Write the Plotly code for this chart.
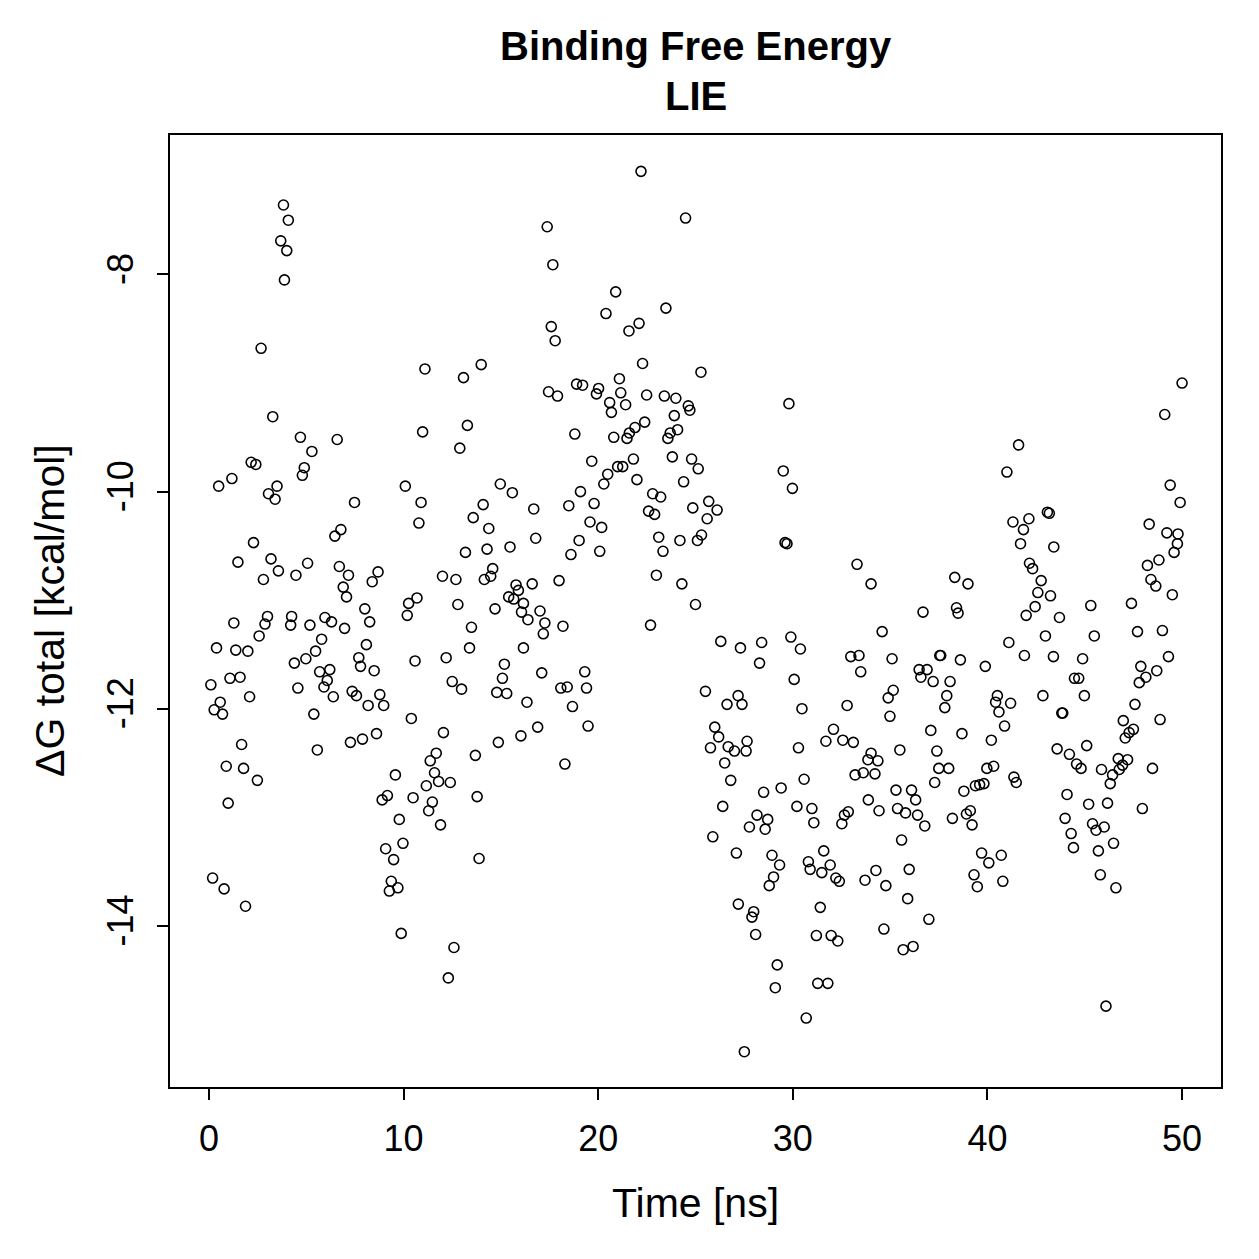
import plotly.graph_objects as go

time_ns = [
    3.83, 4.08, 3.69, 4.00, 3.88, 2.68, 3.28, 4.70, 6.59, 5.29, 2.17, 2.41, 4.90, 4.80, 1.18, 0.50,
    3.50, 3.06, 3.40, 7.48, 6.78, 6.47, 2.29, 1.49, 3.19, 3.57, 2.80, 4.47, 5.07, 6.70, 7.17, 6.90,
    7.07, 1.28, 3.01, 2.88, 2.58, 4.25, 4.20, 5.19, 5.96, 6.30, 6.97, 5.79, 5.48, 4.98, 4.39, 0.39,
    1.38, 2.00, 5.69, 6.21, 6.08, 5.91, 6.39, 7.36, 0.10, 1.08, 1.60, 2.09, 4.57, 0.58, 0.27, 0.70,
    5.39, 1.68, 5.57, 7.27, 0.89, 1.78, 2.49, 0.99, 0.19, 0.78, 1.88,
    11.10, 13.08, 13.99, 10.98, 13.28, 12.89, 10.09, 10.90, 10.79, 14.97, 15.59, 14.09, 13.58, 14.38,
    13.18, 14.29, 15.47, 8.69, 8.39, 12.00, 12.69, 14.58, 14.48, 14.15, 15.78, 15.90, 15.40, 15.66,
    16.16, 8.01, 10.69, 10.26, 10.19, 12.79, 14.70, 16.06, 8.26, 13.49, 13.39, 16.16, 8.09, 7.70,
    7.79, 8.49, 10.59, 12.19, 15.18, 15.08, 14.79, 15.30, 12.50, 12.98, 16.34, 7.58, 8.78, 8.18,
    8.98, 10.40, 12.05, 7.89, 8.61, 14.87, 16.03, 11.68, 11.37, 13.69, 9.58, 11.59, 11.80, 12.40,
    11.17, 9.17, 8.90, 10.49, 13.78, 11.48, 11.29, 9.78, 11.90, 9.97, 9.08, 9.49, 13.88, 9.37, 9.71,
    9.27, 9.88, 12.59, 12.30,
    22.20, 24.49, 17.38, 17.67, 20.90, 20.40, 22.10, 21.58, 23.48, 17.59, 17.79, 22.28, 25.28, 17.45,
    17.91, 18.89, 19.20, 20.02, 19.91, 21.09, 21.16, 20.59, 20.68, 21.41, 22.49, 23.40, 23.99, 24.63,
    24.71, 23.91, 22.39, 21.89, 21.60, 21.48, 20.80, 24.08, 23.70, 23.58, 18.80, 19.67, 21.81, 21.26,
    21.00, 20.49, 20.29, 21.99, 23.81, 24.80, 25.14, 24.39, 19.09, 19.79, 18.49, 16.69, 22.80, 23.21,
    22.59, 22.90, 24.86, 19.58, 20.18, 16.79, 19.02, 18.60, 20.08, 23.11, 23.33, 24.20, 16.61, 17.99,
    22.99, 24.30, 25.00, 25.68, 26.11, 25.60, 25.31, 25.10, 17.01, 16.39, 17.26, 17.18, 18.19, 22.69,
    17.10, 19.31, 18.08, 18.41, 19.40, 18.68, 16.89, 19.48, 18.29,
    29.80, 29.51, 29.98, 29.60, 29.70, 33.30, 34.02, 26.30, 27.31, 28.40, 28.29, 29.90, 30.39, 30.07,
    32.98, 33.40, 33.49, 25.51, 27.19, 26.62, 27.39, 30.47, 32.79, 25.99, 26.19, 25.77, 26.68, 27.00,
    27.65, 27.60, 26.50, 30.29, 32.09, 31.70, 32.57, 33.11, 34.02, 33.86, 34.37, 34.22, 33.20, 33.62,
    26.81, 28.50, 29.40, 30.58, 26.40, 28.16, 28.71, 27.77, 28.58, 30.21, 30.98, 31.08, 32.85, 32.65,
    32.52, 33.88, 34.43, 25.89, 27.10, 28.93, 29.32, 29.01, 28.79, 31.59, 31.92, 31.49, 30.80, 30.89,
    32.21, 32.39, 33.71, 34.27, 27.20, 27.99, 27.90, 28.09, 31.41, 31.21, 31.97, 32.31, 29.20, 29.10,
    31.28, 31.80, 30.69, 27.51,
    41.60, 41.00, 43.08, 43.18, 41.31, 42.13, 41.85, 41.70, 43.41, 42.16, 42.32, 42.76, 42.59, 42.45,
    43.24, 38.32, 39.00, 36.69, 38.41, 38.49, 41.99, 34.59, 42.98, 41.10, 41.90, 35.10, 37.55, 37.60,
    38.61, 39.89, 36.49, 36.90, 36.58, 37.21, 38.08, 35.16, 34.90, 34.99, 37.91, 37.81, 40.51, 40.42,
    41.19, 40.59, 40.88, 42.85, 43.39, 37.09, 38.69, 40.20, 35.50, 37.40, 37.50, 38.01, 37.29, 39.97,
    40.32, 41.36, 41.48, 35.30, 36.10, 36.31, 38.79, 39.38, 39.60, 39.82, 35.38, 35.79, 36.41, 36.78,
    38.20, 38.92, 39.12, 39.21, 35.59, 39.70, 40.07, 40.71, 34.78, 35.98, 39.31, 39.48, 40.79, 35.90,
    36.99, 34.68, 36.18, 35.67,
    50.00, 49.11, 49.39, 49.90, 48.31, 49.22, 49.79, 49.76, 49.59, 48.81, 48.22, 48.40, 48.65, 49.50,
    47.40, 45.31, 43.70, 45.49, 47.71, 48.99, 44.89, 49.30, 47.88, 48.70, 48.14, 47.80, 44.47, 44.69,
    44.98, 43.82, 43.87, 47.58, 46.98, 47.50, 47.28, 47.08, 48.87, 43.58, 44.21, 44.58, 44.81, 45.10,
    45.86, 46.43, 46.31, 46.72, 47.20, 46.94, 46.77, 48.48, 44.09, 45.20, 46.17, 47.96, 43.99, 44.30,
    44.42, 45.40, 45.58, 46.00, 46.48, 45.70, 45.80, 46.60, 46.09,
]

dg_total = [
    -7.36, -7.50, -7.69, -7.78, -8.05, -8.68, -9.31, -9.50, -9.52, -9.63, -9.73, -9.75, -9.78, -9.85, -9.88, -9.95,
    -9.95, -10.02, -10.07, -10.10, -10.35, -10.41, -10.47, -10.65, -10.62, -10.73, -10.81, -10.77, -10.66, -10.69, -10.77, -10.88,
    -10.97, -11.21, -11.15, -11.22, -11.33, -11.15, -11.23, -11.23, -11.16, -11.20, -11.26, -11.36, -11.47, -11.54, -11.58, -11.44,
    -11.46, -11.47, -11.66, -11.64, -11.74, -11.80, -11.89, -11.84, -11.78, -11.72, -11.71, -11.89, -11.81, -11.94, -12.01, -12.05,
    -12.05, -12.33, -12.38, -12.31, -12.53, -12.55, -12.66, -12.87, -13.56, -13.66, -13.82,
    -8.87, -8.95, -8.83, -9.45, -9.39, -9.60, -9.95, -10.10, -10.29, -9.93, -10.01, -10.12, -10.24, -10.34,
    -10.56, -10.53, -10.51, -10.74, -10.83, -10.78, -10.81, -10.71, -10.78, -10.81, -10.86, -10.91, -10.97, -10.99,
    -11.03, -11.08, -10.98, -11.03, -11.14, -11.04, -11.08, -11.11, -11.20, -11.25, -11.44, -11.44, -11.41, -11.53,
    -11.61, -11.65, -11.56, -11.53, -11.59, -11.72, -11.85, -11.86, -11.75, -11.82, -11.94, -11.88, -11.87, -11.97,
    -11.97, -12.09, -12.22, -12.28, -12.23, -12.31, -12.25, -12.41, -12.48, -12.43, -12.61, -12.59, -12.67, -12.68,
    -12.71, -12.80, -12.84, -12.82, -12.81, -12.86, -12.94, -13.02, -13.07, -13.24, -13.29, -13.39, -13.38, -13.59, -13.65,
    -13.68, -14.07, -14.20, -14.48,
    -7.05, -7.48, -7.56, -7.91, -8.16, -8.36, -8.45, -8.52, -8.31, -8.48, -8.61, -8.82, -8.90, -9.08,
    -9.12, -9.01, -9.02, -9.05, -9.10, -8.96, -9.09, -9.18, -9.27, -9.20, -9.11, -9.12, -9.14, -9.21,
    -9.25, -9.30, -9.36, -9.41, -9.46, -9.51, -9.50, -9.43, -9.46, -9.51, -9.47, -9.72, -9.70, -9.77,
    -9.77, -9.84, -9.93, -9.89, -9.68, -9.70, -9.79, -9.91, -10.00, -10.11, -10.13, -10.16, -10.02, -10.05,
    -10.18, -10.21, -10.15, -10.28, -10.33, -10.43, -10.45, -10.58, -10.55, -10.42, -10.55, -10.45, -10.85, -10.82,
    -10.77, -10.85, -11.04, -10.09, -10.17, -10.25, -10.40, -10.45, -11.10, -11.18, -11.21, -11.31, -11.24, -11.23,
    -11.67, -11.66, -11.81, -11.80, -11.81, -11.98, -12.17, -12.16, -12.51,
    -9.19, -9.81, -9.97, -10.47, -10.48, -10.67, -10.85, -11.38, -11.44, -11.39, -11.58, -11.34, -11.45, -11.73,
    -11.52, -11.51, -11.66, -11.84, -11.88, -11.96, -11.96, -12.00, -11.97, -12.17, -12.26, -12.36, -12.35, -12.39,
    -12.30, -12.39, -12.50, -12.36, -12.19, -12.30, -12.29, -12.31, -12.41, -12.47, -12.48, -12.60, -12.61, -12.59,
    -12.66, -12.77, -12.73, -12.65, -12.90, -12.98, -13.02, -13.09, -13.11, -12.90, -12.92, -13.05, -12.95, -12.98,
    -13.06, -12.84, -12.94, -13.18, -13.33, -13.35, -13.44, -13.55, -13.63, -13.31, -13.44, -13.51, -13.41, -13.48,
    -13.56, -13.59, -13.58, -13.49, -13.80, -13.87, -13.92, -14.08, -13.83, -14.09, -14.09, -14.14, -14.36, -14.57,
    -14.53, -14.53, -14.85, -15.16,
    -9.57, -9.82, -10.19, -10.20, -10.28, -10.25, -10.35, -10.48, -10.51, -10.66, -10.71, -10.82, -10.93, -11.06,
    -10.96, -10.79, -10.85, -11.11, -11.07, -11.12, -11.14, -11.29, -11.33, -11.39, -11.51, -11.54, -11.51, -11.51,
    -11.55, -11.61, -11.64, -11.64, -11.71, -11.75, -11.75, -11.83, -11.90, -12.07, -11.88, -11.99, -11.88, -11.94,
    -11.95, -12.03, -12.16, -11.88, -11.52, -12.20, -12.23, -12.29, -12.38, -12.39, -12.55, -12.55, -12.68, -12.55,
    -12.53, -12.63, -12.68, -12.75, -12.75, -12.84, -12.76, -12.71, -12.70, -12.69, -12.92, -12.96, -12.98, -13.08,
    -13.01, -12.97, -12.94, -13.07, -13.21, -13.33, -13.42, -13.35, -13.63, -13.48, -13.53, -13.64, -13.59, -13.75,
    -13.94, -14.03, -14.19, -14.22,
    -9.00, -9.29, -9.94, -10.10, -10.30, -10.38, -10.39, -10.48, -10.56, -10.63, -10.68, -10.81, -10.87, -10.95,
    -11.03, -11.05, -11.16, -11.33, -11.29, -11.28, -11.54, -11.52, -11.61, -11.65, -11.71, -11.76, -11.72, -11.72,
    -11.88, -12.04, -12.04, -11.96, -12.11, -12.19, -12.22, -12.27, -12.10, -12.37, -12.42, -12.51, -12.55, -12.34,
    -12.56, -12.61, -12.69, -12.46, -12.47, -12.52, -12.56, -12.55, -12.79, -12.88, -12.87, -12.92, -13.01, -13.15,
    -13.28, -13.06, -13.12, -13.09, -13.24, -13.31, -13.53, -13.65, -14.74,
]

x_ticks = [0, 10, 20, 30, 40, 50]
y_ticks = [-14, -12, -10, -8]

pairs = sorted(zip(time_ns, dg_total))
xs = [p[0] for p in pairs]
ys = [p[1] for p in pairs]

FONT = "Liberation Sans, Arial, Helvetica, sans-serif"

fig = go.Figure()
fig.add_trace(go.Scatter(
    x=xs, y=ys, mode="markers",
    marker=dict(symbol="circle-open", size=10, color="black", line=dict(color="black", width=1.6)),
    showlegend=False,
))

W, H = 1259, 1259
L, R, T, B = 170, 38, 135, 172
PH = H - T - B

axis_common = dict(
    showline=True, linecolor="black", linewidth=2, mirror=True,
    ticks="outside", ticklen=11, tickwidth=2, tickcolor="black",
    showgrid=False, zeroline=False,
    tickfont=dict(family=FONT, size=36, color="black"),
)

def ann(text, x, y, size, angle=0):
    return dict(text=text, xref="paper", yref="paper", x=x, y=y,
                xanchor="center", yanchor="middle", textangle=angle, showarrow=False,
                font=dict(family=FONT, size=size, color="black"))

fig.update_layout(
    width=W, height=H,
    margin=dict(l=L, r=R, t=T, b=B),
    paper_bgcolor="white", plot_bgcolor="white",
    xaxis=dict(range=[-2, 52], tickvals=x_ticks, ticktext=[str(v) for v in x_ticks],
               ticklabelstandoff=8, **axis_common),
    yaxis=dict(range=[-15.485, -6.715], tickvals=y_ticks, ticktext=[str(v) for v in y_ticks],
               tickangle=-90, ticklabelstandoff=10, **axis_common),
    annotations=[
        ann("<b>Binding Free Energy</b>", 0.5, 1 + (T - 46) / PH, 40),
        ann("<b>LIE</b>", 0.5, 1 + (T - 96) / PH, 40),
        ann("Time [ns]", 0.5, -(1203 - (H - B)) / PH, 41),
        ann("ΔG total [kcal/mol]", -(L - 50) / (W - L - R), 0.5, 41, -90),
    ],
)

fig.write_html("out.html")
